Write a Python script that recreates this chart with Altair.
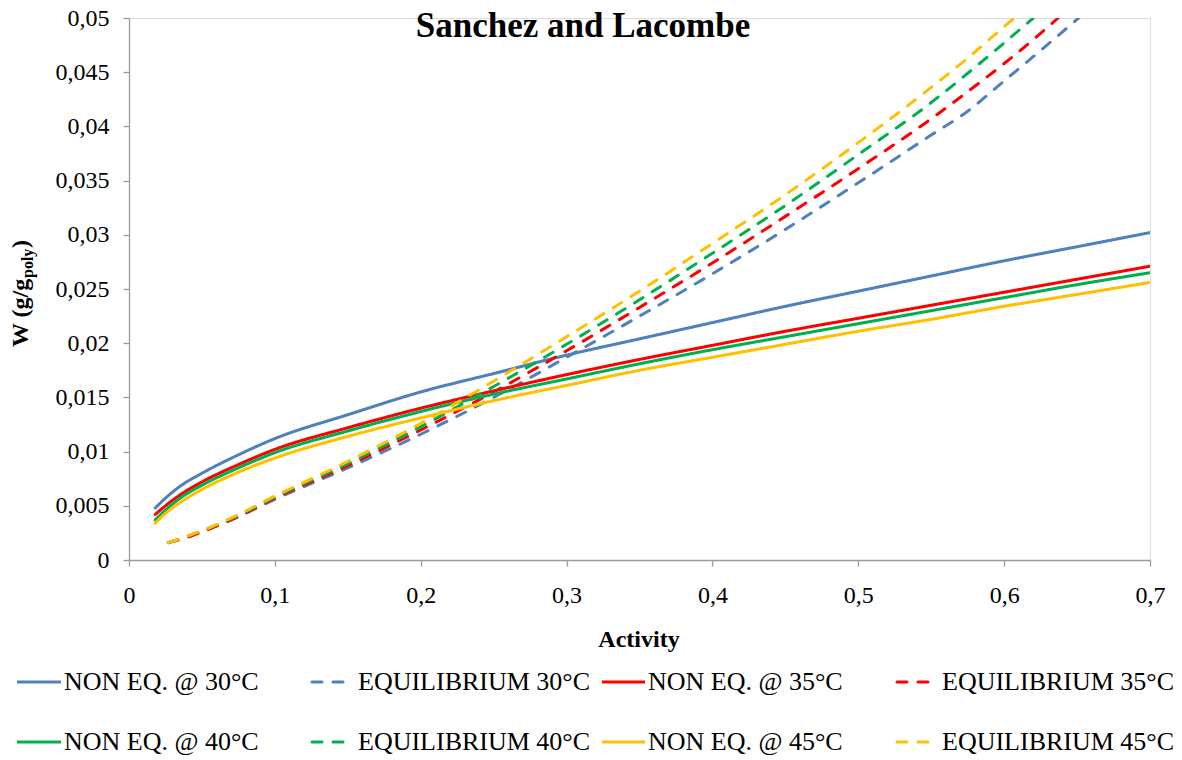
import altair as alt
import pandas as pd

# ---------------- data ----------------
series_names = [
    "NON EQ. @ 30°C", "EQUILIBRIUM 30°C",
    "NON EQ. @ 35°C", "EQUILIBRIUM 35°C",
    "NON EQ. @ 40°C", "EQUILIBRIUM 40°C",
    "NON EQ. @ 45°C", "EQUILIBRIUM 45°C",
]
series_colors = ["#4F81BD", "#4F81BD", "#FF0000", "#FF0000",
                 "#00B050", "#00B050", "#FFC000", "#FFC000"]
series_kind = ["non", "eq", "non", "eq", "non", "eq", "non", "eq"]

activity_non_eq = [0.018, 0.025, 0.035, 0.05, 0.075, 0.1, 0.15, 0.2, 0.25,
                   0.3, 0.35, 0.4, 0.45, 0.5, 0.55, 0.6, 0.65, 0.7]
non_eq_30 = [0.0048, 0.0057, 0.0068, 0.0080, 0.0097, 0.0112, 0.0134, 0.0155, 0.0172,
             0.0189, 0.0204, 0.0219, 0.0234, 0.0248, 0.0262, 0.0276, 0.0289, 0.0302]
non_eq_35 = [0.0042, 0.0050, 0.0060, 0.0072, 0.0088, 0.0102, 0.0122, 0.0140, 0.0156,
             0.0171, 0.0185, 0.0198, 0.0211, 0.0223, 0.0235, 0.0247, 0.0259, 0.0271]
non_eq_40 = [0.0037, 0.0046, 0.0057, 0.0069, 0.0085, 0.0099, 0.0119, 0.0137, 0.0153,
             0.0167, 0.0181, 0.0194, 0.0206, 0.0218, 0.0230, 0.0242, 0.0254, 0.0265]
non_eq_45 = [0.0034, 0.0043, 0.0053, 0.0065, 0.0081, 0.0094, 0.0114, 0.0131, 0.0147,
             0.0161, 0.0175, 0.0187, 0.0199, 0.0211, 0.0222, 0.0234, 0.0245, 0.0256]

activity_eq_base = [0.027, 0.04, 0.05, 0.075, 0.1, 0.15, 0.2, 0.25, 0.3,
                    0.35, 0.4, 0.45, 0.5, 0.55, 0.575, 0.6]
activity_eq_30 = activity_eq_base + [0.625, 0.651]
eq_30 = [0.0016, 0.0021, 0.0026, 0.0040, 0.0056, 0.0085, 0.0116, 0.0150, 0.0187,
         0.0225, 0.0264, 0.0305, 0.0348, 0.0392, 0.0414, 0.0442, 0.0470, 0.0500]
activity_eq_35 = activity_eq_base + [0.62, 0.637]
eq_35 = [0.0016, 0.0021, 0.0026, 0.0040, 0.0057, 0.0087, 0.0120, 0.0155, 0.0193,
         0.0233, 0.0274, 0.0317, 0.0361, 0.0407, 0.0432, 0.0458, 0.0480, 0.0500]
activity_eq_40 = activity_eq_base + [0.62]
eq_40 = [0.0016, 0.0022, 0.0027, 0.0041, 0.0058, 0.0089, 0.0123, 0.0160, 0.0199,
         0.0240, 0.0283, 0.0327, 0.0374, 0.0422, 0.0449, 0.0477, 0.0500]
activity_eq_45 = activity_eq_base + [0.607]
eq_45 = [0.0016, 0.0022, 0.0027, 0.0042, 0.0059, 0.0091, 0.0126, 0.0165, 0.0206,
         0.0248, 0.0292, 0.0337, 0.0385, 0.0436, 0.0463, 0.0492, 0.0500]

x_ticks = [0, 0.1, 0.2, 0.3, 0.4, 0.5, 0.6, 0.7]
y_ticks = [0, 0.005, 0.01, 0.015, 0.02, 0.025, 0.03, 0.035, 0.04, 0.045, 0.05]

series_x = [activity_non_eq, activity_eq_30, activity_non_eq, activity_eq_35,
            activity_non_eq, activity_eq_40, activity_non_eq, activity_eq_45]
series_y = [non_eq_30, eq_30, non_eq_35, eq_35, non_eq_40, eq_40, non_eq_45, eq_45]

rows = []
for name, kind, xs, ys in zip(series_names, series_kind, series_x, series_y):
    for a, w in zip(xs, ys):
        rows.append({"activity": a, "W": w, "series": name, "kind": kind})
df = pd.DataFrame(rows)

# ---------------- styles ----------------
FONT = "Liberation Serif"
AXIS_GRAY = "#9A9A9A"
W_PLOT, H_PLOT = 1021, 542
PAD_L, PAD_T = 129, 18
DASH = [10, 11]

axis_common = dict(
    title=None, grid=False, tickSize=6, tickColor=AXIS_GRAY, domainColor=AXIS_GRAY,
    labelFont=FONT, labelFontSize=24, labelColor="black",
    labelFlush=False, labelOverlap=False, domainWidth=1.3, tickWidth=1.3,
)

lines = alt.Chart(df).mark_line(
    strokeWidth=3, clip=True, interpolate="monotone", strokeCap="round"
).encode(
    x=alt.X("activity:Q", scale=alt.Scale(domain=[0, 0.7], nice=False, zero=False),
            axis=alt.Axis(values=x_ticks, labelPadding=17,
                          labelExpr="replace(format(datum.value, '.1~f'), '.', ',')",
                          **axis_common)),
    y=alt.Y("W:Q", scale=alt.Scale(domain=[0, 0.05], nice=False),
            axis=alt.Axis(values=y_ticks, labelPadding=14,
                          labelExpr="replace(format(datum.value, '.3~f'), '.', ',')",
                          **axis_common)),
    color=alt.Color("series:N", scale=alt.Scale(domain=series_names, range=series_colors),
                    legend=None),
    strokeDash=alt.StrokeDash("kind:N", scale=alt.Scale(domain=["non", "eq"],
                                                         range=[[1, 0], DASH]),
                              legend=None),
    detail="series:N",
)

layers = [lines]

one = pd.DataFrame({"k": [0]})


def text_layer(txt, x, y, size, bold=False, align="left", angle=0, baseline="middle"):
    return alt.Chart(one).mark_text(
        text=txt, font=FONT, fontSize=size, fontWeight="bold" if bold else "normal",
        align=align, baseline=baseline, angle=angle, color="black",
    ).encode(x=alt.value(x), y=alt.value(y))


# title
layers.append(text_layer("Sanchez and Lacombe", 583 - PAD_L, 37 - PAD_T, 35,
                         bold=True, align="center", baseline="alphabetic"))
# x title
layers.append(text_layer("Activity", 639 - PAD_L, 647 - PAD_T, 24,
                         bold=True, align="center", baseline="alphabetic"))
# y title with subscript (rotated)
yt_base_x = 28 - PAD_L
yt_start = 347 - PAD_T
layers.append(text_layer("W (g/g", yt_base_x, yt_start, 24, bold=True,
                         angle=270, baseline="alphabetic"))
layers.append(text_layer("poly", yt_base_x + 5, yt_start - 69, 16, bold=True,
                         angle=270, baseline="alphabetic"))
layers.append(text_layer(")", yt_base_x, yt_start - 69 - 30, 24, bold=True,
                         angle=270, baseline="alphabetic"))

# manual legend (2 rows x 4 columns)
col_sym = [(17, 61), (312, 343), (602, 645), (897, 928)]
col_lab = [64, 358, 648, 942]
row_y = [682, 742]
for i, (name, color, kind) in enumerate(zip(series_names, series_colors, series_kind)):
    r, c = divmod(i, 4)
    x1, x2 = col_sym[c]
    y = row_y[r] - PAD_T
    rule_kwargs = dict(color=color, strokeWidth=3)
    if kind == "eq":
        rule_kwargs.update(strokeDash=DASH, strokeCap="round")
    layers.append(alt.Chart(one).mark_rule(**rule_kwargs).encode(
        x=alt.value(x1 - PAD_L), x2=alt.value(x2 - PAD_L), y=alt.value(y)))
    layers.append(text_layer(name, col_lab[c] - PAD_L, y, 26))

chart = alt.layer(*layers).properties(
    width=W_PLOT, height=H_PLOT,
    autosize=alt.AutoSizeParams(type="none"),
    padding={"left": PAD_L, "top": PAD_T, "right": 1182 - PAD_L - W_PLOT,
             "bottom": 760 - PAD_T - H_PLOT},
).configure_view(stroke=None).configure(background="white")

chart.save("out.html", embed_options={"renderer": "svg", "actions": False})
